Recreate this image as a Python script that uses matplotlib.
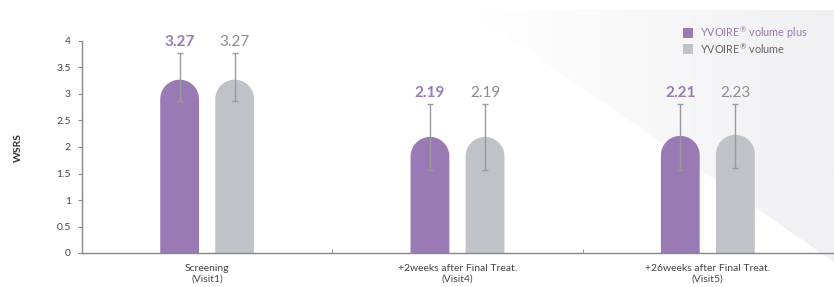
import numpy as np
import matplotlib
matplotlib.use('Agg')
import matplotlib.pyplot as plt
from matplotlib.patches import Polygon, Rectangle

plt.rcParams['font.family'] = ['Lato', 'DejaVu Sans']
plt.rcParams['mathtext.default'] = 'regular'

# ---- data ----
categories = ['Screening\n(Visit1)', '+2weeks after Final Treat.\n(Visit4)', '+26weeks after Final Treat.\n(Visit5)']
plus_vals = [3.27, 2.19, 2.21]
vol_vals = [3.27, 2.19, 2.23]
plus_err_lo = [2.87, 1.57, 1.57]
plus_err_hi = [3.77, 2.81, 2.81]
vol_err_lo = [2.87, 1.57, 1.60]
vol_err_hi = [3.77, 2.81, 2.81]
series_names = ['YVOIRE$^{\u00ae}$ volume plus', 'YVOIRE$^{\u00ae}$ volume']

purple = '#9a7ab4'
grey = '#bfc2c6'
text_grey = '#8c8c8c'
err_col = '#9a9a9a'

W, H = 834, 287
fig = plt.figure(figsize=(W / 100, H / 100), dpi=100)

# faint gradient panel top-right (decoration)
bgax = fig.add_axes([0, 0, 1, 1], zorder=0)
bgax.set_xlim(0, W)
bgax.set_ylim(H, 0)
bgax.axis('off')
gx = np.linspace(0, 1, 200)
grad = np.tile(gx, (50, 1))
from matplotlib.colors import LinearSegmentedColormap
cm = LinearSegmentedColormap.from_list('bg', ['#ffffff', '#f0f0f3'])
im = bgax.imshow(grad, extent=[480, W, H, 10], cmap=cm, aspect='auto',
                 interpolation='bilinear')
clip = Polygon([(470, 10), (W, 10), (W, 262)], closed=True, transform=bgax.transData)
im.set_clip_path(clip)

ax = fig.add_axes([82 / W, 34 / H, 751 / W, 212 / H], zorder=2)
ax.patch.set_alpha(0)
ax.set_xlim(-0.5, 2.5)
ax.set_ylim(0, 4)

x = np.arange(len(categories))
bw = 0.155
off = 0.11

# radius of rounded top in y units, matching half bar width in pixels
px_per_x = 751 / 3.0
px_per_y = 212 / 4.0
ry = (bw / 2 * px_per_x) / px_per_y
t = np.linspace(0, np.pi, 40)


def rounded_bars(xs, vals, color):
    for xi, v in zip(xs, vals):
        top_x = xi + bw / 2 * np.cos(t)
        top_y = v - ry + ry * np.sin(t)
        px = np.concatenate([[xi + bw / 2], top_x, [xi - bw / 2]])
        py = np.concatenate([[0], top_y, [0]])
        ax.add_patch(Polygon(np.column_stack([px, py]), closed=True,
                             facecolor=color, edgecolor='none', zorder=2))


rounded_bars(x - off, plus_vals, purple)
rounded_bars(x + off, vol_vals, grey)

for xs, lo, hi in [(x - off, plus_err_lo, plus_err_hi),
                   (x + off, vol_err_lo, vol_err_hi)]:
    c = [(l + h) / 2 for l, h in zip(lo, hi)]
    e = [(h - l) / 2 for l, h in zip(lo, hi)]
    ax.errorbar(xs, c, yerr=e, fmt='none', ecolor=err_col, elinewidth=1,
                capsize=2.5, capthick=1, zorder=3)

for i in range(len(categories)):
    ax.text(x[i] - off, plus_err_hi[i] + 0.07, f'{plus_vals[i]:.2f}', ha='center',
            va='bottom', fontsize=11, fontweight='bold', color=purple)
    ax.text(x[i] + off, vol_err_hi[i] + 0.07, f'{vol_vals[i]:.2f}', ha='center',
            va='bottom', fontsize=11, color=text_grey)

ax.set_yticks(np.arange(0, 4.01, 0.5))
ax.set_yticklabels(['0', '0.5', '1', '1.5', '2', '2.5', '3', '3.5', '4'])
ax.set_xticks(x)
ax.set_xticklabels(categories, fontsize=7.5, color='#444444', linespacing=1.25)
ax.set_xticks([0.5, 1.5], minor=True)
ax.tick_params(axis='x', which='major', length=0, pad=8)
ax.tick_params(axis='x', which='minor', length=3, direction='in', color='#888888')
ax.tick_params(axis='y', length=3, color='#888888', labelsize=7.5, labelcolor='#444444', pad=5)

for s in ['top', 'right']:
    ax.spines[s].set_visible(False)
for s in ['left', 'bottom']:
    ax.spines[s].set_color('#888888')
    ax.spines[s].set_linewidth(1)

fig.text(18 / W, 1 - 147 / H, 'WSRS', rotation=90, ha='center', va='center',
         fontsize=7.5, fontweight='bold', color='#333333')

# legend
for j, (name, col, tcol) in enumerate([(series_names[0], purple, purple),
                                       (series_names[1], grey, '#666666')]):
    yc = 1 - (33 + j * 16) / H
    fig.patches.append(Rectangle((683 / W, yc - 5 / H), 10 / W, 10 / H,
                                 transform=fig.transFigure, facecolor=col,
                                 edgecolor='none', zorder=3))
    fig.text(700 / W, yc, name, ha='left', va='center', fontsize=7.8, color=tcol,
             zorder=3)

fig.savefig('out.png', dpi=100)
